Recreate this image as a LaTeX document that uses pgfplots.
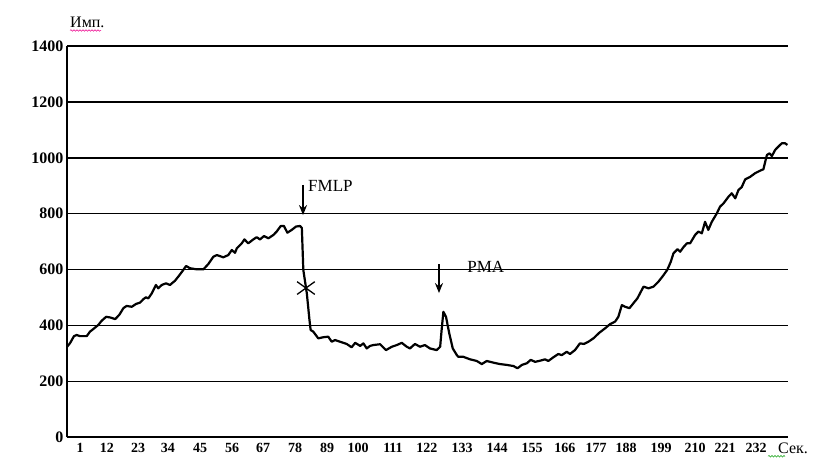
\documentclass[border=0pt]{standalone}
\usepackage{fontspec}
\setmainfont{Liberation Serif}
\usepackage{pgfplots}
\pgfplotsset{compat=1.18}
\usetikzlibrary{arrows.meta,decorations.pathmorphing}
\begin{document}
\begin{tikzpicture}
\begin{axis}[
  name=ax, at={(0,0)}, anchor=south west,
  width=721pt, height=391.3pt, scale only axis,
  xmin=-3.44, xmax=242.6, ymin=0, ymax=1400,
  axis lines*=left,
  x axis line style={line width=1.8pt},
  y axis line style={line width=2.8pt},
  ytick={0,200,...,1400},
  ymajorgrids, grid style={black, line width=1.6pt},
  major tick length=0pt,
  xtick={1.0,10.2,20.8,31.0,41.95,52.9,63.5,74.4,85.3,95.9,107.8,119.4,131.4,143.3,155.3,166.5,177.1,187.4,199.3,210.9,221.1,231.7},
  xticklabels={1,12,23,34,45,56,67,78,89,100,111,122,133,144,155,166,177,188,199,210,221,232},
  xticklabel style={font=\fontsize{14}{14}\selectfont\bfseries, yshift=-2pt},
  yticklabel style={font=\fontsize{16}{16}\selectfont\bfseries},
  /pgf/number format/assume math mode=true,
  /pgf/number format/1000 sep={},
]
\addplot[black, line width=2.2pt, line join=round, no marks] coordinates {
(-3.4,324) (-2.4,337) (-1.05,362) (-0.13,366) (1.0,362) (3.3,362) (4.4,378) (5.5,387) (7.25,402) (8.4,417) (9.9,431) (11.2,429) (13.0,423) (14.4,438) (15.8,462) (16.9,470) (18.65,467) (20.1,477) (21.5,482) (22.6,494) (23.5,501) (24.3,497) (25.5,515) (26.9,545) (27.7,533) (28.9,545) (30.35,551) (31.7,545) (33.4,560) (34.55,575) (36.05,596) (37.2,613) (38.5,605) (40.8,601) (43.1,601) (44.8,620) (46.5,646) (47.7,652) (49.9,644) (51.6,652) (52.8,670) (53.9,660) (54.5,676) (56.2,694) (57.1,708) (58.4,694) (60.15,708) (61.3,716) (62.4,708) (63.8,720) (65.3,712) (67.0,724) (68.1,736) (69.5,756) (70.6,756) (71.75,732) (73.25,742) (74.7,754) (76.1,756) (76.7,749) (77.2,599) (78.4,515) (79.3,420) (79.7,384) (80.6,378) (82.3,354) (84.0,358) (85.7,360) (86.9,342) (88.0,348) (89.7,342) (92.0,334) (93.7,322) (94.9,338) (96.6,327) (97.7,336) (98.85,318) (100.0,327) (101.1,330) (103.4,333) (105.4,312) (107.4,324) (109.1,330) (110.8,338) (112.5,324) (113.6,318) (115.3,334) (117.0,324) (118.7,330) (120.4,318) (122.7,312) (123.9,324) (124.4,384) (125.0,449) (125.9,431) (127.0,372) (128.2,318) (129.6,294) (130.1,288) (131.8,288) (134.1,279) (136.4,273) (138.1,262) (139.8,273) (142.1,267) (144.3,262) (146.6,259) (148.9,255) (150.3,247) (151.8,259) (153.5,265) (154.8,277) (156.3,270) (158.0,274) (159.7,279) (160.8,273) (162.5,286) (164.2,298) (165.4,294) (167.1,306) (168.2,298) (169.9,312) (171.6,336) (173.0,334) (174.5,342) (176.2,354) (178.2,374) (180.2,390) (181.9,405) (183.6,414) (184.7,431) (185.9,473) (187.0,467) (188.5,462) (189.8,479) (191.2,497) (192.4,521) (193.3,539) (195.0,533) (196.7,539) (198.4,557) (199.9,577) (201.4,599) (202.6,628) (203.5,658) (204.9,673) (205.8,664) (206.9,680) (208.1,694) (209.2,694) (210.9,724) (212.0,736) (213.2,730) (214.3,771) (215.4,742) (216.6,771) (218.3,801) (219.4,825) (220.6,837) (222.3,861) (223.4,873) (224.6,855) (225.7,885) (226.8,895) (228.0,923) (229.7,932) (231.4,945) (233.1,954) (234.2,959) (235.4,1010) (236.3,1016) (237.1,1006) (238.2,1028) (239.3,1040) (240.5,1052) (241.6,1052) (242.4,1046)
};
\addplot[black, only marks, mark=x, mark size=10pt, mark options={line width=1.3pt, xscale=1.25, yscale=0.9}] coordinates {(78.1,534)};
\draw[line width=2pt, -{Stealth[length=10pt,width=8pt]}] (axis cs:77.1,903) -- (axis cs:77.1,795);
\draw[line width=2pt, -{Stealth[length=10pt,width=8pt]}] (axis cs:123.5,620) -- (axis cs:123.5,516);
\node[anchor=west, font=\fontsize{17}{17}\selectfont, inner sep=0pt] at (axis cs:78.8,899) {FMLP};
\node[anchor=west, font=\fontsize{17}{17}\selectfont, inner sep=0pt] at (axis cs:133.1,609) {PMA};
\end{axis}
\node[anchor=base west, inner sep=0pt, font=\fontsize{16}{16}\selectfont] at ([xshift=3pt,yshift=18pt]ax.north west) {Имп.};
\draw[magenta, line width=0.5pt, decorate, decoration={snake, amplitude=0.8pt, segment length=3pt}] ([xshift=3pt,yshift=15.5pt]ax.north west) -- ++(31pt,0);
\node[anchor=base west, inner sep=0pt, font=\fontsize{16}{16}\selectfont] at ([xshift=-10pt,yshift=-16pt]ax.south east) {Сек.};
\draw[green!60!black, line width=0.5pt, decorate, decoration={snake, amplitude=0.8pt, segment length=3pt}] ([xshift=-20pt,yshift=-19pt]ax.south east) -- ++(17pt,0);
\pgfresetboundingbox
\path (ax.south west) ++(-67pt,-28.7pt) rectangle ++(820pt,466pt);
\end{tikzpicture}
\end{document}
